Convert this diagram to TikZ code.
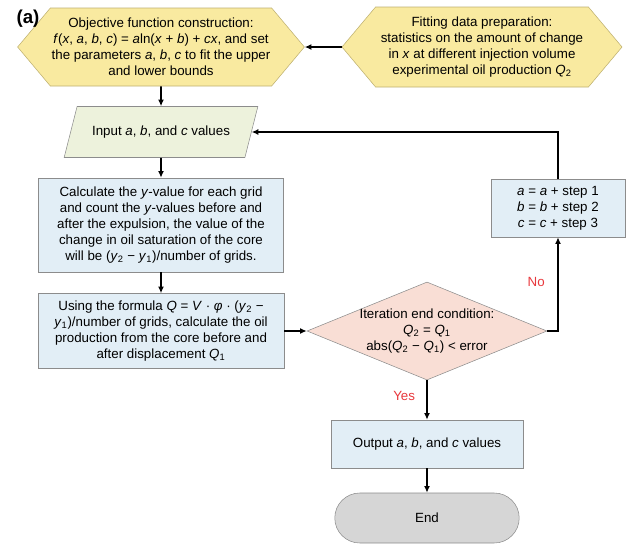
\documentclass[tikz,border=0pt]{standalone}
\usepackage{fontspec}
\setmainfont{Liberation Sans}
\definecolor{hexfill}{RGB}{249, 234, 160}
\definecolor{hexline}{RGB}{190, 176, 112}
\definecolor{inputfill}{RGB}{237, 242, 220}
\definecolor{boxfill}{RGB}{226, 238, 246}
\definecolor{boxline}{RGB}{140, 140, 140}
\definecolor{condfill}{RGB}{249, 222, 213}
\definecolor{endfill}{RGB}{214, 214, 214}
\definecolor{answerred}{RGB}{232, 56, 61}
\usetikzlibrary{shapes.geometric, shapes.symbols, shapes.misc, arrows.meta, positioning, calc}
\newcommand{\flowfont}{\fontsize{10}{12}\selectfont}
\newcommand{\vr}[1]{\textit{#1}}
\newcommand{\varsub}[2]{\textit{#1}\textsubscript{#2}}
\tikzset{
  hexbox/.style={shape=signal, signal to=east and west, signal pointer angle=100, draw=hexline, fill=hexfill, align=center, inner sep=1pt, font=\flowfont},
  inbox/.style={trapezium, trapezium left angle=62, trapezium right angle=118, trapezium stretches=true, draw=boxline, fill=inputfill, font=\flowfont, minimum width=145.5pt, minimum height=38.25pt},
  procbox/.style={rectangle, draw=boxline, fill=boxfill, align=center, inner sep=2pt, font=\flowfont},
  condbox/.style={diamond, aspect=2.45, draw=boxline, fill=condfill, align=center, inner sep=-8pt, font=\flowfont, minimum width=180pt, minimum height=73.5pt},
  endbox/.style={rounded rectangle, draw=boxline, fill=endfill, font=\flowfont, minimum width=145pt, minimum height=37.5pt},
  flowarrow/.style={-{Latex[length=5pt, width=4.5pt]}, line width=1.3pt},
  answer/.style={text=answerred, font=\flowfont}
}

\begin{document}
\begin{tikzpicture}[x=0.75pt, y=-0.75pt]
  \useasboundingbox (0,0) rectangle (637,544);

  \node[hexbox, minimum width=207pt, minimum height=58.5pt] (obj) at (161,47) {
    Objective function construction:\\
    \vr{f}(\vr{x}, \vr{a}, \vr{b}, \vr{c}) = \vr{a}ln(\vr{x} + \vr{b}) + \vr{cx}, and set\\
    the parameters \vr{a}, \vr{b}, \vr{c} to fit the upper\\
    and lower bounds
  };
  \node[hexbox, minimum width=210pt, minimum height=60pt] (prep) at (482,47) {
    Fitting data preparation:\\
    statistics on the amount of change\\
    in \vr{x} at different injection volume\\
    experimental oil production \varsub{Q}{2}
  };
  \node[font=\fontsize{14}{16}\selectfont\bfseries] (tag) at (28,19) {(a)};

  \node[inbox] (inp) at (161,132) {Input \vr{a}, \vr{b}, and \vr{c} values};

  \node[procbox, minimum width=183.75pt, minimum height=70.5pt] (calc1) at (161,225) {
    Calculate the \vr{y}-value for each grid\\
    and count the \vr{y}-values before and\\
    after the expulsion, the value of the\\
    change in oil saturation of the core\\
    will be (\varsub{y}{2} − \varsub{y}{1})/number of grids.
  };
  \node[procbox, minimum width=184.5pt, minimum height=56.25pt] (calc2) at (161,331) {
    Using the formula \vr{Q} = \vr{V} · \vr{φ} · (\varsub{y}{2} −\\
    \varsub{y}{1})/number of grids, calculate the oil\\
    production from the core before and\\
    after displacement \varsub{Q}{1}
  };

  \node[condbox] (cond) at (427,331) {
    Iteration end condition:\\
    \varsub{Q}{2} = \varsub{Q}{1}\\
    abs(\varsub{Q}{2} − \varsub{Q}{1}) < error
  };
  \node[procbox, minimum width=100.5pt, minimum height=43.5pt] (upd) at (558,208) {
    \vr{a} = \vr{a} + step 1\\
    \vr{b} = \vr{b} + step 2\\
    \vr{c} = \vr{c} + step 3
  };

  \node[procbox, minimum width=144pt, minimum height=36pt] (out) at (427,444) {Output \vr{a}, \vr{b}, and \vr{c} values};
  \node[endbox] (end) at (427,518) {End};

  \draw[flowarrow] (prep.west) -- (obj.east);
  \draw[flowarrow] (obj.south) -- (inp.north);
  \draw[flowarrow] (inp.south) -- (calc1.north);
  \draw[flowarrow] (calc1.south) -- (calc2.north);
  \draw[flowarrow] (calc2.east) -- (cond.west);
  \draw[flowarrow] (cond.east) -| node[answer, pos=0.76, left=6pt] {No} (upd.south);
  \draw[flowarrow] (upd.north) |- (inp.east);
  \draw[flowarrow] (cond.south) -- node[answer, pos=0.4, left=5pt] {Yes} (out.north);
  \draw[flowarrow] (out.south) -- (end.north);
\end{tikzpicture}
\end{document}
